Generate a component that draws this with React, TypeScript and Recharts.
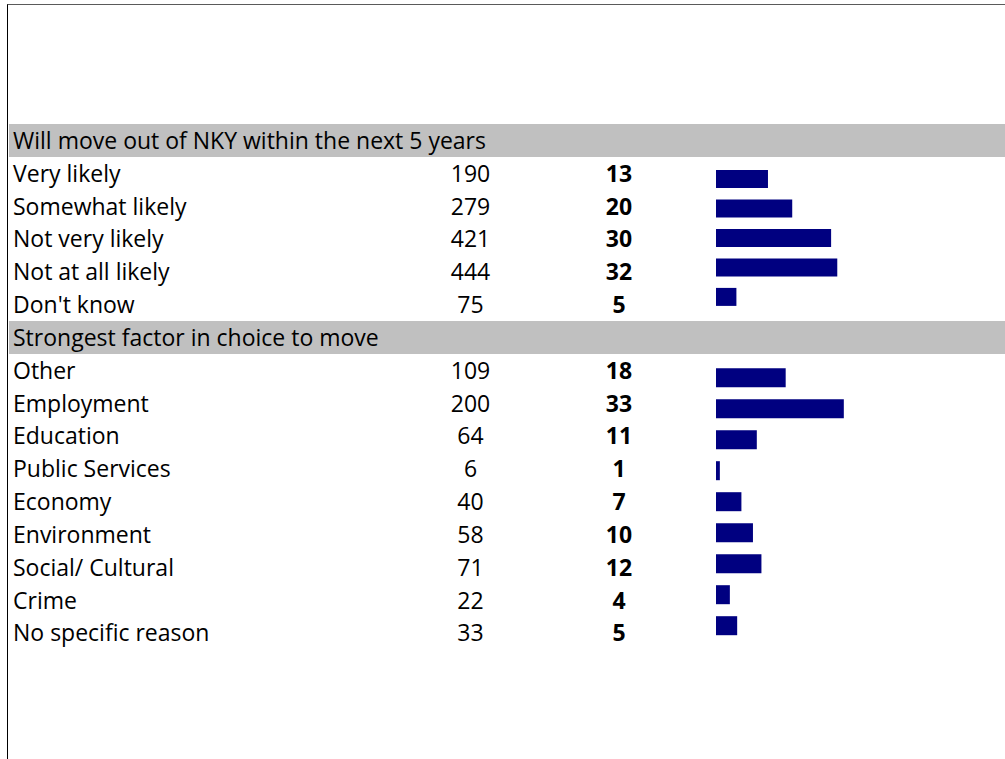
import React from 'react';
import { ComposedChart, BarChart, Bar, XAxis, YAxis } from 'recharts';

// ---- data ----
const section1Title = 'Will move out of NKY within the next 5 years';
const section1Labels = ['Very likely', 'Somewhat likely', 'Not very likely', 'Not at all likely', "Don't know"];
const section1Counts = [190, 279, 421, 444, 75];
const section1Pcts = [13, 20, 30, 32, 5];
const section1Bars = [13.5, 19.8, 29.9, 31.5, 5.3];

const section2Title = 'Strongest factor in choice to move';
const section2Labels = [
  'Other',
  'Employment',
  'Education',
  'Public Services',
  'Economy',
  'Environment',
  'Social/ Cultural',
  'Crime',
  'No specific reason',
];
const section2Counts = [109, 200, 64, 6, 40, 58, 71, 22, 33];
const section2Pcts = [18, 33, 11, 1, 7, 10, 12, 4, 5];
const section2Bars = [18.1, 33.2, 10.6, 1.0, 6.6, 9.6, 11.8, 3.6, 5.5];

// ---- derived tables ----
type Row = { label: string; header: boolean; band: number | null; count?: number; pct?: number };

const tableRows: Row[] = [
  { label: section1Title, header: true, band: 1 },
  ...section1Labels.map((l, i) => ({ label: l, header: false, band: null, count: section1Counts[i], pct: section1Pcts[i] })),
  { label: section2Title, header: true, band: 1 },
  ...section2Labels.map((l, i) => ({ label: l, header: false, band: null, count: section2Counts[i], pct: section2Pcts[i] })),
];

const bars1Data = section1Labels.map((l, i) => ({ name: l, share: section1Bars[i] }));
const bars2Data = section2Labels.map((l, i) => ({ name: l, share: section2Bars[i] }));

// ---- layout ----
const W = 1005;
const H = 759;
const FONT = '"Open Sans", sans-serif';
const FS = 23;
const ROW_TOP = 124;
const ROW_H = 32.83;
const TABLE_H = ROW_H * tableRows.length;
const BASELINE = 8.5;
const LABEL_X = 13;
const COUNT_X = 470.5;
const PCT_X = 619;
const BAR_X = 716;
const BAR_W = 192.5;

function RowTick(props: any) {
  const { y, payload, index } = props;
  const idx = typeof payload?.index === 'number' ? payload.index : index;
  const row: Row | undefined =
    tableRows.find((r) => r.label === payload?.value) || (typeof idx === 'number' ? tableRows[idx] : undefined);
  if (!row) return <g />;
  const by = Number(y) + BASELINE;
  const common = { fontFamily: FONT, fontSize: FS, fill: '#000' };
  if (row.header) {
    return (
      <text x={LABEL_X} y={by} {...common}>
        {row.label}
      </text>
    );
  }
  return (
    <g>
      <text x={LABEL_X} y={by} {...common}>
        {row.label}
      </text>
      <text x={COUNT_X} y={by} textAnchor="middle" {...common}>
        {row.count}
      </text>
      <text x={PCT_X} y={by} textAnchor="middle" fontWeight="bold" {...common}>
        {row.pct}
      </text>
    </g>
  );
}

export default function App() {
  return (
    <div
      style={{
        position: 'absolute',
        left: 0,
        top: 0,
        width: W,
        height: H,
        background: '#fff',
        overflow: 'hidden',
      }}
    >
      <div
        style={{
          position: 'absolute',
          left: 7,
          top: 4,
          width: W - 7,
          height: H - 4,
          boxSizing: 'border-box',
          borderLeft: '1px solid #000',
          borderTop: '1px solid #5a5a5a',
        }}
      />
      <div style={{ position: 'absolute', left: 0, top: 0 }}>
        <ComposedChart
          layout="vertical"
          width={W}
          height={H}
          data={tableRows}
          margin={{ top: ROW_TOP, right: 0, bottom: H - ROW_TOP - TABLE_H, left: 8 }}
          barCategoryGap={0}
        >
          <XAxis type="number" domain={[0, 1]} hide />
          <Bar dataKey="band" fill="#c0c0c0" isAnimationActive={false} />
          <YAxis
            type="category"
            dataKey="label"
            width={1}
            axisLine={false}
            tickLine={false}
            interval={0}
            tick={(p: any) => <RowTick {...p} />}
          />
        </ComposedChart>
      </div>
      <div style={{ position: 'absolute', left: BAR_X, top: 164.25 }}>
        <BarChart
          layout="vertical"
          width={BAR_W}
          height={147.5}
          data={bars1Data}
          margin={{ top: 0, right: 0, bottom: 0, left: 0 }}
          barCategoryGap="20%"
        >
          <XAxis type="number" domain={[0, 50]} hide />
          <YAxis type="category" dataKey="name" hide />
          <Bar dataKey="share" fill="#000080" isAnimationActive={false} />
        </BarChart>
      </div>
      <div style={{ position: 'absolute', left: BAR_X, top: 361.5 }}>
        <BarChart
          layout="vertical"
          width={BAR_W}
          height={279}
          data={bars2Data}
          margin={{ top: 0, right: 0, bottom: 0, left: 0 }}
          barCategoryGap="20%"
        >
          <XAxis type="number" domain={[0, 50]} hide />
          <YAxis type="category" dataKey="name" hide />
          <Bar dataKey="share" fill="#000080" isAnimationActive={false} />
        </BarChart>
      </div>
    </div>
  );
}
